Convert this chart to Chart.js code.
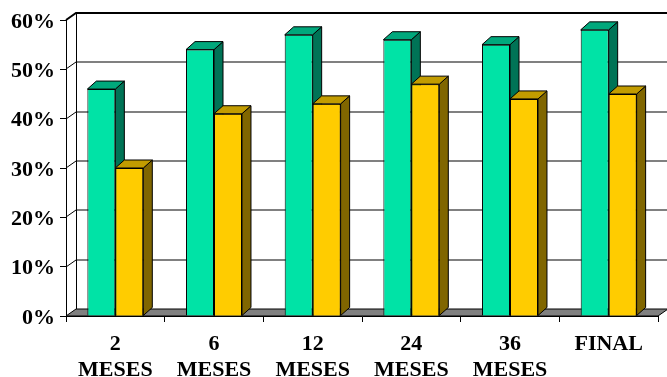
<!DOCTYPE html>
<html>
<head>
<meta charset="utf-8">
<title>Evolución</title>
<script src="https://cdn.jsdelivr.net/npm/chart.js@4/dist/chart.umd.min.js"></script>
<style>
  html, body { margin: 0; padding: 0; background: #fff; }
  #wrap { width: 667px; height: 377px; }
</style>
</head>
<body>
<div id="wrap"><canvas id="chart" width="667" height="377"></canvas></div>
<script>
// data
const categories = [["2", "MESES"], ["6", "MESES"], ["12", "MESES"], ["24", "MESES"], ["36", "MESES"], "FINAL"];
const seriesGreen = [46, 54, 57, 56, 55, 58];
const seriesYellow = [30, 41, 43, 47, 44, 45];
const yTicks = [0, 10, 20, 30, 40, 50, 60];

// depth of the walls and of the columns (pseudo 3D)
const WALL_DX = 10, WALL_DY = -7;
const BAR_DX = 9, BAR_DY = -8;

const serif = '"Liberation Serif", "Times New Roman", serif';

function poly(ctx, pts, fill) {
  ctx.beginPath();
  ctx.moveTo(pts[0][0], pts[0][1]);
  for (let i = 1; i < pts.length; i++) ctx.lineTo(pts[i][0], pts[i][1]);
  ctx.closePath();
  ctx.fillStyle = fill;
  ctx.fill();
  ctx.stroke();
}

function drawFaces(ctx, bar, sideColor, topColor) {
  const l = bar.x - bar.width / 2, r = bar.x + bar.width / 2;
  const t = bar.y, b = bar.base;
  ctx.strokeStyle = '#000';
  ctx.lineWidth = 1;
  poly(ctx, [[r, t], [r + BAR_DX, t + BAR_DY], [r + BAR_DX, b + BAR_DY], [r, b]], sideColor);
  poly(ctx, [[l, t], [l + BAR_DX, t + BAR_DY], [r + BAR_DX, t + BAR_DY], [r, t]], topColor);
}

const walls3d = {
  id: 'walls3d',
  beforeDatasetsDraw(chart) {
    const { ctx, chartArea: a, scales: { y } } = chart;
    const top = y.getPixelForValue(yTicks[yTicks.length - 1]);
    const bottom = y.getPixelForValue(0);
    ctx.save();

    // back wall gridlines
    ctx.strokeStyle = '#808080';
    ctx.lineWidth = 2;
    yTicks.slice(1, -1).forEach(v => {
      const py = Math.round(y.getPixelForValue(v));
      ctx.beginPath();
      ctx.moveTo(a.left + WALL_DX, py + WALL_DY);
      ctx.lineTo(a.right + WALL_DX + 2, py + WALL_DY);
      ctx.stroke();
    });

    // side wall gridlines
    ctx.strokeStyle = '#000';
    ctx.lineWidth = 1;
    yTicks.slice(1, -1).forEach(v => {
      const py = Math.round(y.getPixelForValue(v));
      ctx.beginPath();
      ctx.moveTo(a.left, py);
      ctx.lineTo(a.left + WALL_DX, py + WALL_DY);
      ctx.stroke();
    });

    // back wall left edge
    ctx.beginPath();
    ctx.moveTo(a.left + WALL_DX + 0.5, top + WALL_DY);
    ctx.lineTo(a.left + WALL_DX + 0.5, bottom + WALL_DY);
    ctx.stroke();

    // top edge
    ctx.lineWidth = 2;
    ctx.beginPath();
    ctx.moveTo(a.left, top);
    ctx.lineTo(a.left + WALL_DX, top + WALL_DY);
    ctx.lineTo(a.right + WALL_DX + 2, top + WALL_DY);
    ctx.stroke();

    // floor
    ctx.lineWidth = 1;
    poly(ctx, [[a.left, bottom], [a.right, bottom], [a.right + WALL_DX, bottom + WALL_DY], [a.left + WALL_DX, bottom + WALL_DY]], '#808080');
    ctx.restore();
  },
  afterDatasetsDraw(chart) {
    const ctx = chart.ctx;
    const green = chart.getDatasetMeta(0).data;
    const yellow = chart.getDatasetMeta(1).data;
    ctx.save();
    green.forEach((bar, i) => {
      drawFaces(ctx, bar, '#007356', '#00A87C');
      yellow[i].draw(ctx);
      drawFaces(ctx, yellow[i], '#806600', '#C29C00');
    });
    ctx.restore();
  }
};

new Chart(document.getElementById('chart'), {
  type: 'bar',
  data: {
    labels: categories,
    datasets: [
      {
        data: seriesGreen,
        backgroundColor: '#00E3A6',
        borderColor: '#000',
        borderWidth: 1
      },
      {
        data: seriesYellow,
        backgroundColor: '#FFCC00',
        borderColor: '#000',
        borderWidth: 1
      }
    ]
  },
  options: {
    responsive: false,
    animation: false,
    events: [],
    layout: { padding: { top: 20, right: 9, left: 0, bottom: 0 } },
    datasets: {
      bar: { barPercentage: 1, categoryPercentage: 0.567 }
    },
    plugins: {
      legend: { display: false },
      tooltip: { enabled: false }
    },
    scales: {
      x: {
        grid: { drawOnChartArea: false, drawTicks: true, tickLength: 6, color: '#000' },
        border: { display: true, color: '#000' },
        ticks: {
          color: '#000',
          padding: 9,
          maxRotation: 0,
          autoSkip: false,
          font: { family: serif, weight: 'bold', size: 22 }
        },
        afterFit(scale) { scale.height = 61; }
      },
      y: {
        min: 0,
        max: 60,
        afterBuildTicks(scale) { scale.ticks = yTicks.map(v => ({ value: v })); },
        grid: { drawOnChartArea: false, drawTicks: true, tickLength: 6, color: '#000' },
        border: { display: true, color: '#000' },
        ticks: {
          color: '#000',
          padding: 5,
          labelOffset: 2,
          font: { family: serif, weight: 'bold', size: 22 },
          callback: v => v + '%'
        },
        afterFit(scale) { scale.width = 66; }
      }
    }
  },
  plugins: [walls3d]
});
</script>
</body>
</html>
